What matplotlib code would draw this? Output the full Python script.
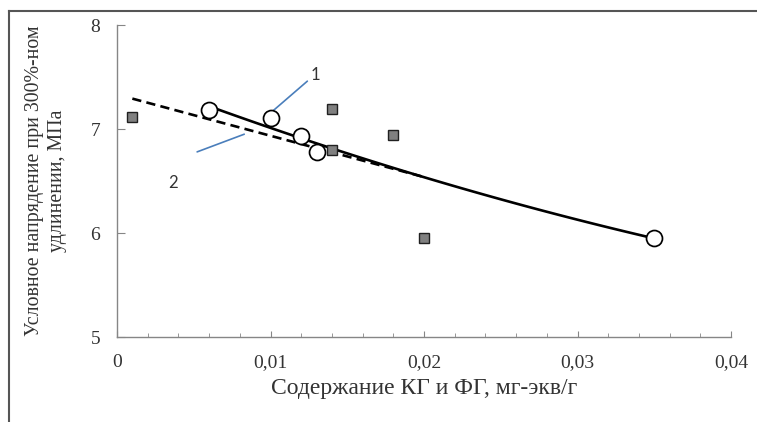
import numpy as np
import matplotlib
matplotlib.use("Agg")
import matplotlib.pyplot as plt
from matplotlib.lines import Line2D
from matplotlib.ticker import MultipleLocator, FuncFormatter

# Series 1 (circles)
x1 = [0.006, 0.010, 0.012, 0.013, 0.035]
y1 = [7.18, 7.11, 6.93, 6.78, 5.95]
# Series 2 (squares)
x2 = [0.001, 0.014, 0.014, 0.018, 0.020]
y2 = [7.12, 7.19, 6.80, 6.94, 5.95]

xlabel = "Содержание КГ и ФГ, мг-экв/г"
ylabel = "Условное напрядение при 300%-ном\nудлинении, МПа"

serif = ["Liberation Serif", "DejaVu Serif"]

fig = plt.figure(figsize=(7.57, 4.22), dpi=100)
ax = fig.add_axes([117/757, 1-337/422, (731-117)/757, (337-25)/422])

# trend lines
c1 = np.polyfit(x1, y1, 2)
xt1 = np.linspace(min(x1), max(x1), 100)
ax.plot(xt1, np.polyval(c1, xt1), color="black", lw=1.9, zorder=3)
c2 = np.polyfit(x2, y2, 1)
xt2 = np.linspace(min(x2), max(x2), 100)
ax.plot(xt2, np.polyval(c2, xt2), color="black", lw=1.9, ls=(0, (3.5, 2)), zorder=3)

ax.plot(x1, y1, ls="none", marker="o", ms=11.5, mfc="white", mec="black", mew=1.25, zorder=4)
ax.plot(x2, y2, ls="none", marker="s", ms=6.5, mfc="#808080", mec="#202020", mew=1.0, zorder=4)

# labels 1 and 2 with leader lines
ax.annotate("", xy=(0.00985, 7.135), xytext=(0.0124, 7.46),
            arrowprops=dict(arrowstyle="-", color="#4a7ebb", lw=1.2, shrinkA=0, shrinkB=0))
ax.annotate("", xy=(0.00522, 6.78), xytext=(0.00829, 6.95),
            arrowprops=dict(arrowstyle="-", color="#4a7ebb", lw=1.2, shrinkA=0, shrinkB=0))
ax.text(0.0129, 7.52, "1", fontsize=12, family=["Lato", "DejaVu Sans"], ha="center", va="center",
        color="#333333")
ax.text(0.00365, 6.48, "2", fontsize=12, family=["Lato", "DejaVu Sans"], ha="center", va="center",
        color="#333333")

ax.set_xlim(0, 0.04)
ax.set_ylim(5, 8)
ax.xaxis.set_major_locator(MultipleLocator(0.01))
ax.xaxis.set_minor_locator(MultipleLocator(0.002))
ax.yaxis.set_major_locator(MultipleLocator(1))
ax.xaxis.set_major_formatter(FuncFormatter(lambda v, p: "0" if abs(v) < 1e-9 else f"{v:.2f}".replace(".", ",")))
ax.yaxis.set_major_formatter(FuncFormatter(lambda v, p: f"{v:.0f}"))

for s in ["top", "right"]:
    ax.spines[s].set_visible(False)
for s in ["left", "bottom"]:
    ax.spines[s].set_color("#868686")
    ax.spines[s].set_linewidth(1.0)

ax.tick_params(axis="y", which="major", direction="in", length=6, color="#868686", pad=12,
               labelsize=14, labelcolor="#333333")
ax.tick_params(axis="x", which="major", direction="in", length=4.5, color="#868686", pad=12,
               labelsize=14, labelcolor="#333333")
ax.tick_params(axis="x", which="minor", direction="in", length=3, color="#868686")
for lab in ax.get_xticklabels() + ax.get_yticklabels():
    lab.set_family(serif)

ax.set_xlabel(xlabel, fontsize=17, family=serif, color="#333333", labelpad=5)
ax.set_ylabel(ylabel, fontsize=14.3, family=serif, color="#333333", labelpad=17, linespacing=1.3)

# outer frame lines (left and top)
fig.add_artist(Line2D([9/757, 9/757], [0, 1-11/422], transform=fig.transFigure, color="#555555", lw=1.5))
fig.add_artist(Line2D([9/757, 1], [1-11/422, 1-11/422], transform=fig.transFigure, color="#555555", lw=1.5))

fig.savefig("out.png", dpi=100)
